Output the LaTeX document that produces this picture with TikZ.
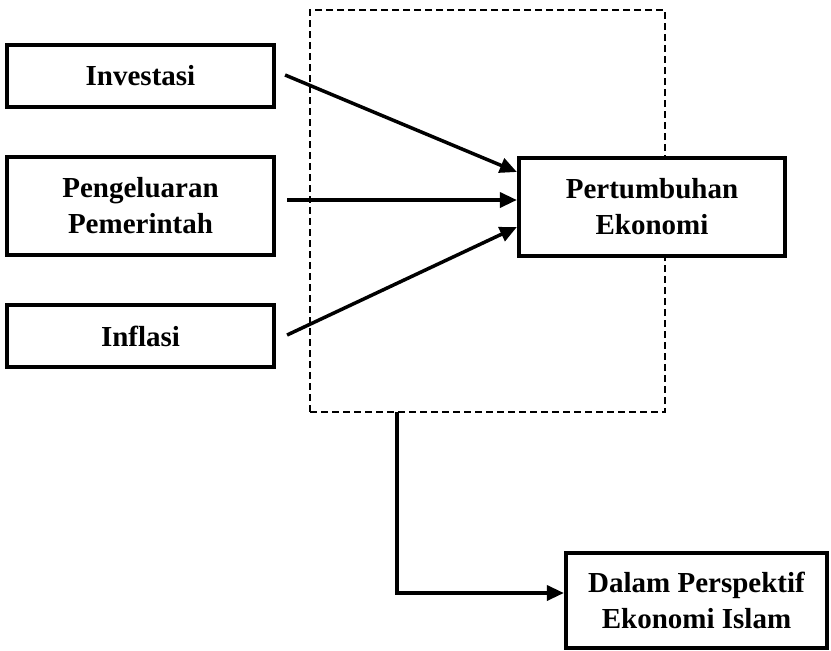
\documentclass[tikz,border=0pt]{standalone}
\usepackage{fontspec}
\setmainfont{Liberation Serif}
\usetikzlibrary{arrows.meta}
\begin{document}
\begin{tikzpicture}[x=1pt,y=-1pt,
  box/.style={draw, line width=4.2pt, fill=white, inner sep=0pt, align=center,
    font=\fontsize{29}{36}\selectfont\bfseries},
  arr/.style={line width=3.5pt, -{Triangle[length=17pt,width=15pt]}},
  frm/.style={draw, line width=1.8pt, dash pattern=on 7pt off 4pt, inner sep=0pt}
  ]
\useasboundingbox (0,0) rectangle (831,651);
\node[frm, minimum width=355pt, minimum height=402pt] (frame) at (487.5,211) {};
\node[box, minimum width=267pt, minimum height=62pt] (inv) at (140.5,76) {Investasi};
\node[box, minimum width=267pt, minimum height=98pt] (peng) at (140.5,206) {Pengeluaran\\Pemerintah};
\node[box, minimum width=267pt, minimum height=62pt] (inf) at (140.5,336) {Inflasi};
\node[box, minimum width=266pt, minimum height=98pt] (pe) at (652,207) {Pertumbuhan\\Ekonomi};
\node[box, minimum width=261pt, minimum height=95pt] (da) at (696.5,600.5) {Dalam Perspektif\\Ekonomi Islam};
\draw[arr] ([xshift=9pt,yshift=1pt]inv.east) -- ([yshift=35pt]pe.west);
\draw[arr] ([xshift=11pt,yshift=6pt]peng.east) -- ([yshift=7pt]pe.west);
\draw[arr] ([xshift=11pt,yshift=1pt]inf.east) -- ([yshift=-20pt]pe.west);
\coordinate (c) at (397,412);
\draw[arr] (c) |- ([yshift=7.5pt]da.west);
\end{tikzpicture}
\end{document}
